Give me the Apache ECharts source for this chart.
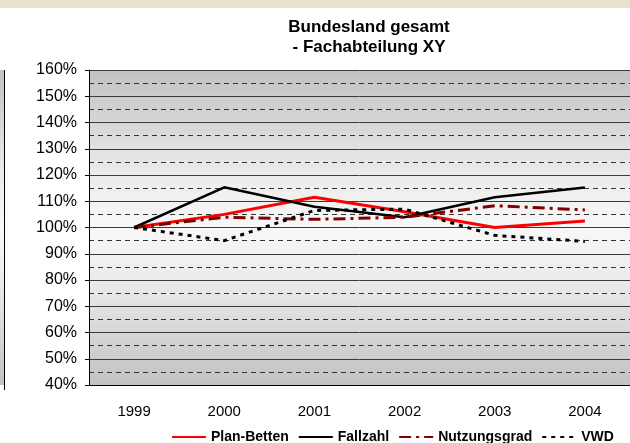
<!DOCTYPE html>
<html>
<head>
<meta charset="utf-8">
<script src="https://cdn.jsdelivr.net/npm/echarts@6/dist/echarts.min.js"></script>
<style>
  html, body { margin: 0; padding: 0; background: #fff; }
  #chart { width: 630px; height: 443px; }
</style>
</head>
<body>
<div id="chart"></div>
<script>
// Jahre
var years = ['1999', '2000', '2001', '2002', '2003', '2004'];
// Index, 1999 = 100%
var planBetten = [100, 105, 111.5, 106, 100, 102.5];
var fallzahl = [100, 115.3, 107.9, 103.9, 111.5, 115.2];
var nutzungsgrad = [100, 103.9, 103.1, 103.9, 108.3, 106.7];
var vwd = [100, 95, 106.5, 107, 97, 94.7];

var font = '"Liberation Sans", Arial, sans-serif';

function plotGradient() {
  return new echarts.graphic.LinearGradient(0, 0, 0, 1, [
    {offset: 0, color: '#c2c2c2'},
    {offset: 0.18, color: '#d8d8d8'},
    {offset: 0.33, color: '#ebebeb'},
    {offset: 0.5, color: '#f8f8f8'},
    {offset: 0.67, color: '#ebebeb'},
    {offset: 0.82, color: '#d8d8d8'},
    {offset: 1, color: '#c2c2c2'}
  ]);
}

var chart = echarts.init(document.getElementById('chart'));
chart.setOption({
  animation: false,
  backgroundColor: '#fff',
  textStyle: {fontFamily: font, color: '#000'},
  title: {
    text: 'Bundesland gesamt\n- Fachabteilung XY',
    left: 364,
    textAlign: 'center',
    top: 12,
    textStyle: {fontSize: 17, fontWeight: 'bold', lineHeight: 20, color: '#000', fontFamily: font}
  },
  graphic: [
    // beige Leiste oben
    {type: 'rect', shape: {x: 0, y: 0, width: 630, height: 8}, style: {fill: '#e6e3cd'}, silent: true},
    // Rest des Nachbardiagramms links
    {type: 'rect', shape: {x: 0, y: 70, width: 4, height: 315}, style: {fill: plotGradient()}, silent: true},
    {type: 'line', shape: {x1: 4.5, y1: 70, x2: 4.5, y2: 390}, style: {stroke: '#000', lineWidth: 1}, silent: true}
  ],
  legend: {
    left: 166,
    top: 425,
    itemGap: 9,
    itemWidth: 34,
    itemHeight: 12,
    itemStyle: {opacity: 0},
    textStyle: {fontSize: 14, fontWeight: 'bold', color: '#000', fontFamily: font},
    data: ['Plan-Betten', 'Fallzahl', 'Nutzungsgrad', 'VWD']
  },
  grid: {
    left: 89,
    right: -8,
    top: 70,
    bottom: 58,
    show: true,
    borderWidth: 0,
    backgroundColor: plotGradient()
  },
  xAxis: {
    type: 'category',
    data: years,
    boundaryGap: true,
    axisLine: {lineStyle: {color: '#000', width: 1}},
    axisTick: {length: 5, lineStyle: {color: '#000'}},
    axisLabel: {fontSize: 15, color: '#000', margin: 19, fontFamily: font},
    splitLine: {show: false}
  },
  yAxis: {
    type: 'value',
    min: 40,
    max: 160,
    interval: 10,
    axisLine: {show: true, lineStyle: {color: '#000', width: 1}},
    axisTick: {show: true, length: 4, lineStyle: {color: '#000'}},
    axisLabel: {fontSize: 16, color: '#000', margin: 12, formatter: '{value}%', fontFamily: font},
    splitLine: {show: true, lineStyle: {color: '#3a3a3a', width: 1}},
    minorTick: {show: false, splitNumber: 2},
    minorSplitLine: {show: true, lineStyle: {color: '#333', width: 1, type: [5, 4]}}
  },
  series: [
    {
      name: 'Plan-Betten', type: 'line', data: planBetten,
      symbol: 'none', lineStyle: {color: '#ff0000', width: 3}, itemStyle: {color: '#ff0000'}
    },
    {
      name: 'Fallzahl', type: 'line', data: fallzahl,
      symbol: 'none', lineStyle: {color: '#000', width: 2.5}, itemStyle: {color: '#000'}
    },
    {
      name: 'Nutzungsgrad', type: 'line', data: nutzungsgrad,
      symbol: 'none', lineStyle: {color: '#800000', width: 3, type: [12, 5, 3, 5]}, itemStyle: {color: '#800000'}
    },
    {
      name: 'VWD', type: 'line', data: vwd,
      symbol: 'none', lineStyle: {color: '#000', width: 3, type: [4, 5]}, itemStyle: {color: '#000'}
    }
  ]
});
</script>
</body>
</html>
